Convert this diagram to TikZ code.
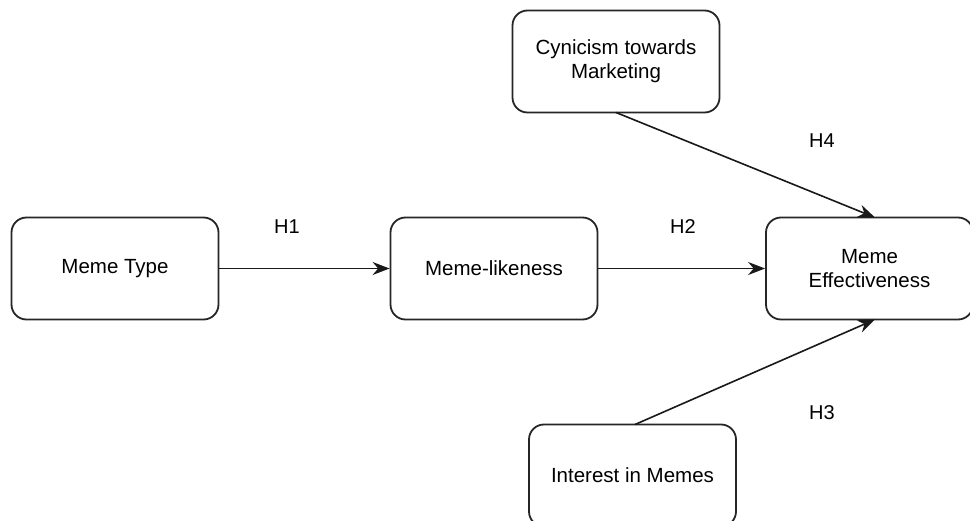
\documentclass[tikz,border=0pt]{standalone}
\usepackage{fontspec}
\setmainfont{Liberation Sans}
\usetikzlibrary{arrows.meta}
\begin{document}
\begin{tikzpicture}[x=1pt,y=-1pt,
  box/.style={draw=black!85, line width=1.8pt, rounded corners=15pt, minimum width=207pt, minimum height=102pt, inner sep=0pt, align=center, font=\fontsize{20.5}{24}\selectfont, fill=white},
  lbl/.style={font=\fontsize{20}{24}\selectfont},
  conn/.style={draw=black!90, line width=1.6pt, -{Stealth[length=17pt,width=13pt]}}]
\useasboundingbox (0,0) rectangle (970,521);
\clip (0,0) rectangle (970,521);
\fill[white] (0,0) rectangle (970,521);
\node[box] (type) at (115,268.5) {Meme Type};
\node[box] (like) at (494,268.5) {Meme-likeness};
\node[box] (eff) at (869.5,268.5) {Meme\\Effectiveness};
\node[box] (cyn) at (616,61.5) {Cynicism towards\\Marketing};
\node[box] (int) at (632.5,475.5) {Interest in Memes};
\coordinate (effT) at (875,217.5);
\coordinate (effB) at (875,319.5);
\coordinate (cynB) at (616,112.5);
\coordinate (intT) at (635,424.5);
\draw[conn] (type.east) -- (like.west);
\draw[conn] (like.east) -- (eff.west);
\draw[conn] (cynB) -- (effT);
\draw[conn] (intT) -- (effB);
\node[lbl] (h1) at (287,227) {H1};
\node[lbl] (h2) at (683,227) {H2};
\node[lbl] (h4) at (822,141) {H4};
\node[lbl] (h3) at (822,413) {H3};
\end{tikzpicture}
\end{document}
